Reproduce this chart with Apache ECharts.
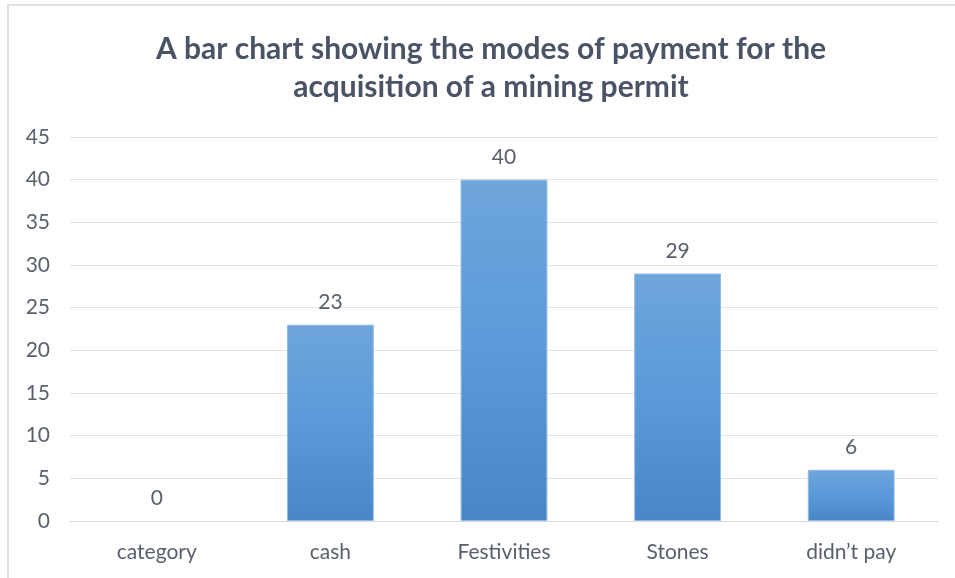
<!DOCTYPE html>
<html>
<head>
<meta charset="utf-8">
<script src="https://cdn.jsdelivr.net/npm/echarts@6/dist/echarts.min.js"></script>
<style>
  html, body { margin: 0; padding: 0; background: #fff; }
  #frame {
    position: absolute; left: 7px; top: 4px; width: 960px; height: 580px;
    border-left: 2px solid #dde1e6; border-top: 2px solid #dde1e6;
  }
  #chart { position: absolute; left: 0; top: 0; width: 955px; height: 578px; }
</style>
</head>
<body>
<div id="frame"></div>
<div id="chart"></div>
<script>
// modes of payment for a mining permit
const categories = ['category', 'cash', 'Festivities', 'Stones', 'didn\u2019t pay']
const counts = [0, 23, 40, 29, 6]
const yTicks = { min: 0, max: 45, interval: 5 }

const textFont = 'Lato, "Open Sans", sans-serif'
const textColor = '#59606c'

const chart = echarts.init(document.getElementById('chart'))
chart.setOption({
  animation: false,
  title: {
    text: 'A bar chart showing the modes of payment for the\nacquisition of a mining permit',
    left: 486,
    textAlign: 'center',
    top: 25,
    textStyle: {
      fontFamily: textFont,
      fontSize: 30,
      fontWeight: 'bold',
      color: '#4a5466',
      lineHeight: 38
    }
  },
  grid: { left: 70, right: 17, top: 137, bottom: 57 },
  xAxis: {
    type: 'category',
    data: categories,
    axisLine: { show: true, lineStyle: { color: '#d9d9d9', width: 1 } },
    axisTick: { show: false },
    axisLabel: { color: textColor, fontFamily: textFont, fontSize: 21, margin: 21 }
  },
  yAxis: {
    type: 'value',
    min: yTicks.min,
    max: yTicks.max,
    interval: yTicks.interval,
    axisLine: { show: false },
    axisTick: { show: false },
    splitLine: { lineStyle: { color: '#e3e3e3', width: 1 } },
    axisLabel: { color: textColor, fontFamily: textFont, fontSize: 21, margin: 20 }
  },
  series: [
    {
      type: 'bar',
      // no outline on an empty bar
      data: counts.map((v) => (v === 0 ? { value: v, itemStyle: { borderWidth: 0 } } : v)),
      barWidth: '50%',
      itemStyle: {
        color: new echarts.graphic.LinearGradient(0, 0, 0, 1, [
          { offset: 0, color: '#6fa5dc' },
          { offset: 0.5, color: '#5a9ad9' },
          { offset: 1, color: '#4787c7' }
        ]),
        borderColor: '#8fbbe6',
        borderWidth: 1
      },
      label: {
        show: true,
        position: 'top',
        distance: 12,
        color: textColor,
        fontFamily: textFont,
        fontSize: 21
      }
    }
  ]
})
</script>
</body>
</html>
